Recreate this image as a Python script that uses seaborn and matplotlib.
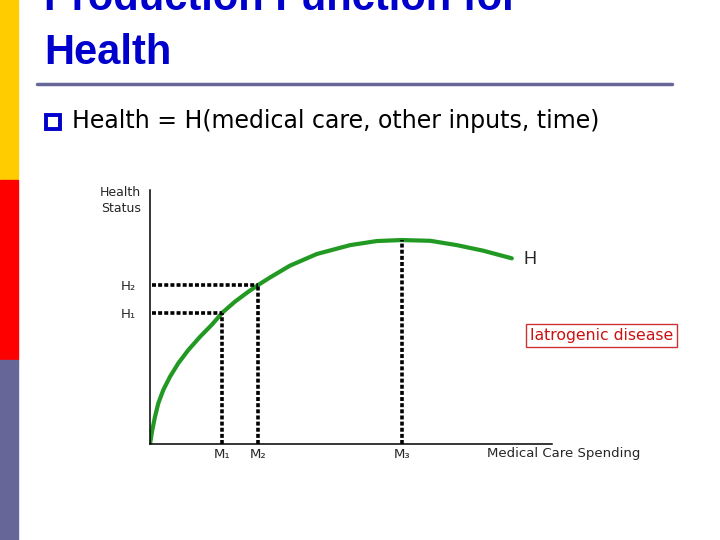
import matplotlib
matplotlib.use("Agg")
import matplotlib.pyplot as plt
import seaborn as sns
from matplotlib.patches import Rectangle

# datos (gasto en cuidado medico vs estado de salud)
spending = [0, 0.57, 1.24, 2.06, 3.31, 4.98, 7.04, 9.53, 12.44, 15.35, 18.0, 21.1, 24.5,
            27.4, 29.9, 34.8, 41.5, 49.8, 56.4, 62.6, 69.7, 76.3, 82.9, 90.0]
health = [0, 5.5, 10.7, 16.0, 21.3, 26.5, 31.8, 37.0, 42.2, 46.9, 51.7, 56.0, 60.0,
          63.1, 65.6, 70.2, 74.8, 78.3, 79.9, 80.3, 80.0, 78.3, 76.1, 73.1]

m_points = [18.0, 26.9, 62.6]
h_points = [51.7, 62.6, 80.3]
m_labels = ["M₁", "M₂", "M₃"]
h_labels = ["H₁", "H₂"]

sns.set_style("white")
plt.rcParams['font.family'] = ['DejaVu Sans']

W, H = 720, 540
fig = plt.figure(figsize=(7.2, 5.4), dpi=100)

# barra de colores a la izquierda
for y0, col in [(0, '#FFCC00'), (180, '#FF0000'), (360, '#666699')]:
    fig.patches.append(Rectangle((0, 1 - (y0 + 180) / H), 18 / W, 180 / H,
                                 transform=fig.transFigure, color=col, zorder=0))

# titulo (la primera linea queda cortada arriba, como en la diapositiva)
fig.text(44 / W, 1 - 10 / H, "Production Function for", fontsize=30, fontweight='bold',
         color='#0000CC', family='Liberation Sans', va='baseline')
fig.text(44 / W, 1 - 64 / H, "Health", fontsize=30, fontweight='bold',
         color='#0000CC', family='Liberation Sans', va='baseline')
fig.add_artist(plt.Line2D([37 / W, 672 / W], [1 - 84 / H, 1 - 84 / H],
                          color='#666699', lw=2.5, transform=fig.transFigure))

# viñeta
fig.patches.append(Rectangle((46 / W, 1 - 129 / H), 14 / W, 14 / H, transform=fig.transFigure,
                             facecolor='white', edgecolor='#0000CC', lw=2.8))
fig.text(72 / W, 1 - 128 / H, "Health = H(medical care, other inputs, time)",
         fontsize=17, va='baseline', color='black')

# grafico
ax = fig.add_axes([150 / W, (H - 444) / H, 402 / W, 254 / H])
sns.lineplot(x=spending, y=health, ax=ax, color='#229922', lw=3, sort=False)

dots = (0, (1.1, 0.6))
for m, h in zip(m_points, h_points):
    ax.plot([m, m], [0, h], color='black', lw=2.6, ls=dots)
for m, h in zip(m_points[:2], h_points[:2]):
    ax.plot([0.6, m], [h, h], color='black', lw=2.6, ls=dots)

ax.set_xlim(0, 100)
ax.set_ylim(0, 100)
sns.despine(ax=ax)
for s in ['left', 'bottom']:
    ax.spines[s].set_color('black')
    ax.spines[s].set_linewidth(1.1)

ax.set_xticks(m_points)
ax.set_xticklabels(m_labels, fontsize=9.5)
ax.set_yticks(h_points[:2])
ax.set_yticklabels(h_labels, fontsize=9.5)
ax.tick_params(axis='x', length=0, pad=3)
ax.tick_params(axis='y', length=0, pad=10)

ax.text(-2.2, 95.7, "Health\nStatus", fontsize=9, ha='right', va='center',
        multialignment='right', linespacing=1.3)
ax.text(83.8, -3.9, "Medical Care Spending", fontsize=9.5, ha='left', va='center', clip_on=False)
ax.text(92.8, 72.8, "H", fontsize=13, family='Liberation Sans', ha='left', va='center')
ax.text(112.4, 42.7, "Iatrogenic disease", fontsize=11.3, color='#CC1111', ha='center',
        va='center', clip_on=False,
        bbox=dict(boxstyle='square,pad=0.25', facecolor='white', edgecolor='#CC3333', lw=1))

fig.savefig("out.png", dpi=100)
